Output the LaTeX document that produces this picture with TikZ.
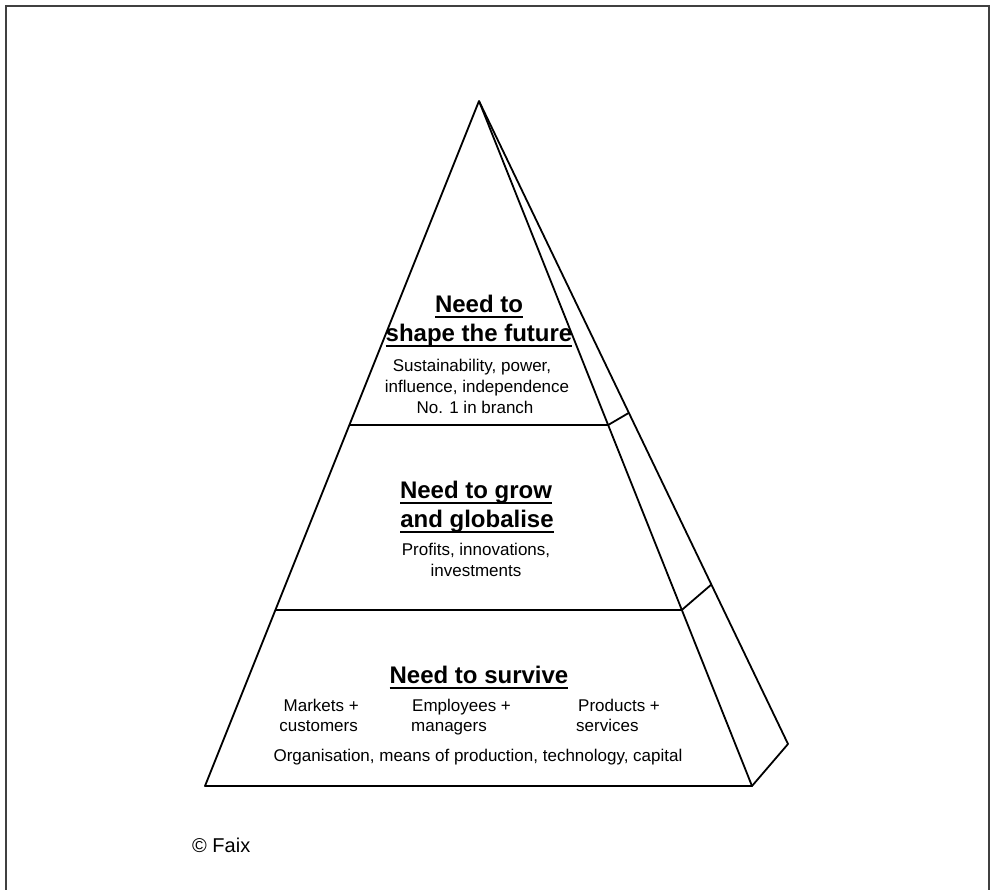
\documentclass[tikz,border=0pt]{standalone}
\usepackage{fontspec}
\setmainfont{Liberation Sans}
\usetikzlibrary{calc}
% heavy underline for the level headings
\newcommand\heavyul[1]{\setbox0=\hbox{#1}\leavevmode\rlap{\rule[-5.5pt]{\wd0}{2pt}}\box0}
\tikzset{
  edge/.style={draw=black, line width=1.8pt, line join=round},
  frame/.style={draw=black!75, line width=1.6pt},
  head/.style={anchor=base, inner sep=0pt, font=\fontsize{24}{29}\selectfont\bfseries},
  body/.style={anchor=base, inner sep=0pt, font=\fontsize{17}{21}\selectfont},
}
\begin{document}
\begin{tikzpicture}[x=1pt, y=-1pt]
\useasboundingbox (0,0) rectangle (991,890);
% page frame, open at the bottom
\draw[frame] (6,892) -- (6,6) -- (989,6) -- (989,892);

% pyramid corners
\coordinate (apex) at (479,101);
\coordinate (fl) at (205,786);
\coordinate (fr) at (752,786);
\coordinate (br) at (788,744);
% level boundaries on the front and side faces
\coordinate (l1) at ($(apex)!0.473!(fl)$);
\coordinate (r1) at ($(apex)!0.473!(fr)$);
\coordinate (b1) at ($(apex)!0.485!(br)$);
\coordinate (l2) at ($(apex)!0.743!(fl)$);
\coordinate (r2) at ($(apex)!0.743!(fr)$);
\coordinate (b2) at ($(apex)!0.752!(br)$);

\draw[edge] (apex) -- (fl) -- (fr) -- cycle;
\draw[edge] (apex) -- (br) -- (fr);
\draw[edge] (l1) -- (r1) -- (b1);
\draw[edge] (l2) -- (r2) -- (b2);

% top level
\node[head] (t1) at (479,313) {\heavyul{Need to}};
\node[head] (t2) at (479,342) {\heavyul{shape the future}};
\node[body] (t3) at (472,372) {Sustainability, power,};
\node[body] (t4) at (477,393) {influence, independence};
\node[body] (t5) at (475,414) {No. 1 in branch};

% middle level
\node[head] (m1) at (476,498) {\heavyul{Need to grow}};
\node[head] (m2) at (477,527) {\heavyul{and globalise}};
\node[body] (m3) at (476,555) {Profits, innovations,};
\node[body] (m4) at (476,576) {investments};

% bottom level
\node[head] (s1) at (479,683) {\heavyul{Need to survive}};
\node[body, anchor=base east] (s2) at (359,711) {Markets +};
\node[body, anchor=base east] (s3) at (358,731) {customers};
\node[body, anchor=base west] (s4) at (412,711) {Employees +};
\node[body, anchor=base west] (s5) at (411,731) {managers};
\node[body, anchor=base west] (s6) at (578,711) {Products +};
\node[body, anchor=base west] (s7) at (576,731) {services};
\node[body] (s8) at (478,761) {Organisation, means of production, technology, capital};

% copyright
\node[body, anchor=base west, font=\fontsize{20}{24}\selectfont] (cr) at (192,852) {© Faix};
\end{tikzpicture}
\end{document}
